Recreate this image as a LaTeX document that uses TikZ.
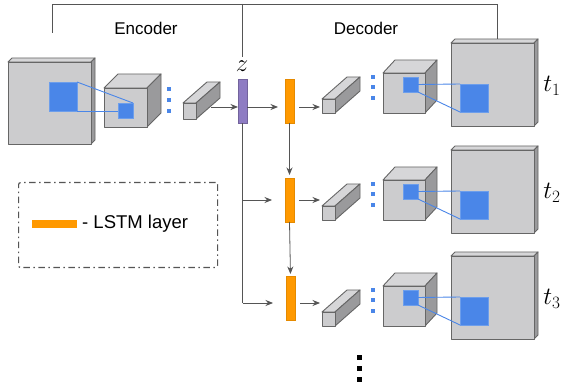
\documentclass[tikz,border=0pt]{standalone}
\usepackage{fontspec}
\setmainfont{Liberation Sans}
\usetikzlibrary{arrows.meta}
\definecolor{frontc}{HTML}{CCCCCE}
\definecolor{topc}{HTML}{D6D6D8}
\definecolor{sidec}{HTML}{9A9A9C}
\definecolor{edgec}{HTML}{666666}
\definecolor{blueC}{HTML}{4A86E8}
\definecolor{blueL}{HTML}{6D9EEB}
\definecolor{purpC}{HTML}{8E7CC3}
\definecolor{orngC}{HTML}{FF9900}
\definecolor{arrowc}{HTML}{555555}
\tikzset{
  face/.style={draw=edgec, line width=0.9pt, line join=round},
  frontface/.style={face, fill=frontc, rectangle, inner sep=0pt, outer sep=0pt, anchor=north west},
  bluesq/.style={rectangle, fill=blueC, draw=blueL, line width=0.6pt, inner sep=0pt, outer sep=0pt, anchor=north west},
  blueln/.style={draw=blueC, line width=0.9pt},
  conn/.style={draw=arrowc, line width=0.8pt},
  arr/.style={conn, -{Stealth[length=7.5pt,width=6pt]}},
  barnode/.style={rectangle, inner sep=0pt, outer sep=0pt, anchor=north west, minimum width=9pt, minimum height=44pt},
  zbar/.style={barnode, fill=purpC, draw=purpC!80!black, line width=0.4pt},
  lstmbar/.style={barnode, fill=orngC, draw=orngC!90!black, line width=0.4pt},
  bdot/.style={rectangle, fill=blueC, minimum size=4pt, inner sep=0pt},
  kdot/.style={rectangle, fill=black, minimum size=5pt, inner sep=0pt},
  lbl/.style={font=\fontsize{17}{20}\selectfont},
  mathlbl/.style={font=\fontsize{24}{28}\selectfont},
  legbox/.style={draw=arrowc, line width=1.2pt, dash pattern=on 6.5pt off 3.5pt on 1.5pt off 3.5pt, rounded corners=2pt, rectangle, inner sep=0pt, anchor=north west},
}
% name, x1, y1, x2, y2, dx, dy
\newcommand{\prismbox}[7]{%
  \draw[face, fill=topc] (#2,#3) -- ({#2+#6},{#3+#7}) -- ({#4+#6},{#3+#7}) -- (#4,#3) -- cycle;
  \draw[face, fill=sidec] (#4,#3) -- ({#4+#6},{#3+#7}) -- ({#4+#6},{#5+#7}) -- (#4,#5) -- cycle;
  \node[frontface, minimum width={((#4)-(#2))*1pt}, minimum height={((#5)-(#3))*1pt}] (#1) at (#2,#3) {};
}
% name, x1, y1, x2, y2
\newcommand{\sqnode}[5]{%
  \node[bluesq, minimum width={((#4)-(#2))*1pt}, minimum height={((#5)-(#3))*1pt}] (#1) at (#2,#3) {};
}
\begin{document}
\begin{tikzpicture}[x=1pt,y=-1pt]
\useasboundingbox (0,0) rectangle (566,385);
\fill[white] (0,0) rectangle (566,385);

% row reference coordinates
\coordinate (r1) at (0,107);
\coordinate (r2) at (0,200);
\coordinate (r3) at (0,303);

% labels
\node[lbl] (enc) at (146,28) {Encoder};
\node[lbl] (dec) at (366,28) {Decoder};

% encoder
\prismbox{ebig}{8}{62}{91}{144}{4}{-4}
\sqnode{ebl}{49}{82}{77}{111}
\prismbox{ecube}{104}{88}{147}{127}{14}{-14}
\sqnode{ebs}{118}{103}{133}{118}
\draw[blueln] (ebl.north east) -- (ebs.north east);
\draw[blueln] (ebl.south east) -- (ebs.west |- ebl.south east);
\node[bdot] (ed1) at (169,89) {};
\node[bdot] (ed2) at (169,100) {};
\node[bdot] (ed3) at (169,111) {};
\prismbox{ebar}{183}{103}{196}{119}{24}{-21}
\coordinate (ebarside) at (211,107);

% z
\node[zbar] (z) at (238,79) {};
\node[mathlbl] (zl) at (242,66) {$z$};

% LSTM column
\node[lstmbar] (l1) at (285,79) {};
\node[lstmbar] (l2) at (285,178) {};
\node[lstmbar] (l3) at (286,276) {};

% encoder arrows
\draw[arr] (ebarside) -- (z.west |- r1);
\draw[arr, shorten >=7pt] (z.east |- r1) -- (l1.west |- r1);
\draw[conn] (z.south) -- (z.south |- r3);
\draw[arr, shorten >=13pt] (z.south |- r2) -- (l2.west |- r2);
\draw[arr, shorten >=13pt] (z.south |- r3) -- (l3.west |- r3);
\draw[arr, shorten >=3pt] (l1.south) -- (l2.north);
\draw[arr, shorten >=2pt] (l2.south) -- (l3.north);

% decoder rows
\foreach \k/\o in {1/0,2/107,3/213}{
  \prismbox{db\k}{322}{99+\o}{335}{113+\o}{25}{(-22)}
  \node[bdot] (dd\k a) at (373,77+\o) {};
  \node[bdot] (dd\k b) at (373,87.5+\o) {};
  \node[bdot] (dd\k c) at (373,98+\o) {};
  \prismbox{dcube\k}{383}{73+\o}{425}{113+\o}{12}{(-13)}
  \sqnode{ds\k}{403}{77+\o}{418}{92+\o}
  \prismbox{dbig\k}{451}{43+\o}{534}{126+\o}{4}{(-4)}
  \sqnode{dbl\k}{460}{84+\o}{488}{112+\o}
  \draw[blueln] (ds\k.east) -- (dbl\k.north west);
  \draw[blueln] (ds\k.south east) -- (dbl\k.south west);
  \node[mathlbl] (t\k) at (552,86+\o) {$t_{\k}$};
  \draw[arr, shorten <=5pt, shorten >=2pt] (l\k.east |- r\k) -- (db\k.west |- r\k);
}

% top bracket
\coordinate (encL) at (52,33);
\coordinate (tl) at (52,4);
\draw[conn] (encL) -- (tl) -| ([xshift=4.5pt,yshift=4pt]dbig1.north);
\draw[conn] (zl.north |- tl) -- (zl.north);

% legend
\node[legbox, minimum width=199pt, minimum height=85pt] (legend) at (18,182) {};
\node[rectangle, fill=orngC, inner sep=0pt, minimum width=45pt, minimum height=8pt, anchor=north west] (lgbar) at (32,220) {};
\node[font=\fontsize{18.5}{22}\selectfont, anchor=west, inner sep=0pt] (lgtext) at (82,224) {- LSTM layer};

% continuation dots
\node[kdot] (k1) at (359,358) {};
\node[kdot] (k2) at (359,369) {};
\node[kdot] (k3) at (359,380) {};
\end{tikzpicture}
\end{document}
